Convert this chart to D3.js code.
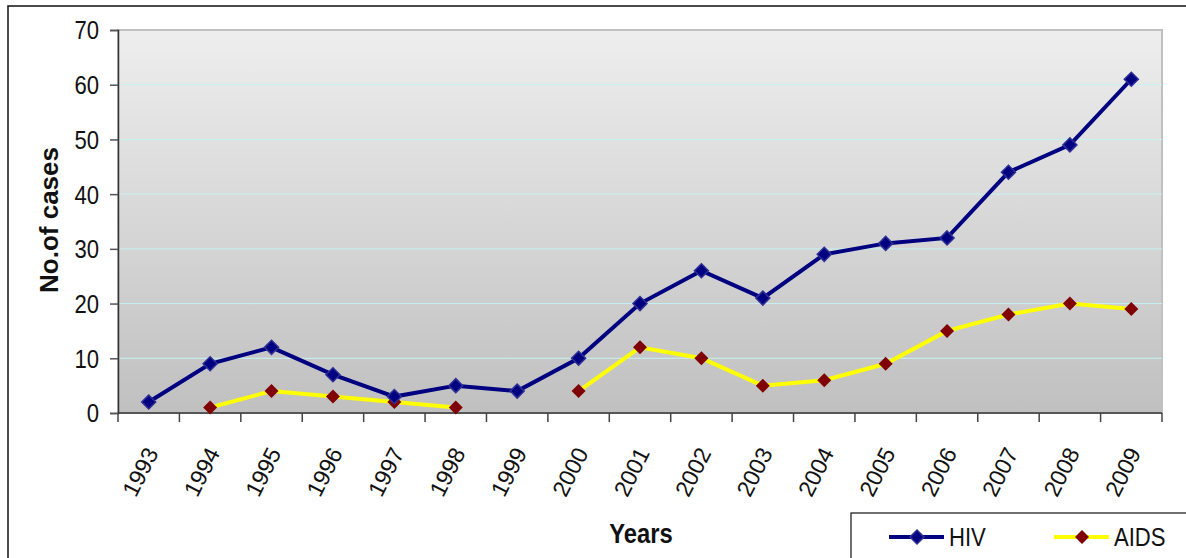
<!DOCTYPE html>
<html>
<head>
<meta charset="utf-8">
<script src="https://cdn.jsdelivr.net/npm/d3@7"></script>
<style>
  body { margin: 0; background: #fff; }
  text { font-family: "Liberation Sans", Arial, sans-serif; }
</style>
</head>
<body>
<svg id="chart" width="1186" height="558"></svg>
<script>
const years = ["1993", "1994", "1995", "1996", "1997", "1998", "1999", "2000", "2001",
  "2002", "2003", "2004", "2005", "2006", "2007", "2008", "2009"];
const hiv = [2, 9, 12, 7, 3, 5, 4, 10, 20, 26, 21, 29, 31, 32, 44, 49, 61];
const aids = [null, 1, 4, 3, 2, 1, null, 4, 12, 10, 5, 6, 9, 15, 18, 20, 19];
const yTicks = [0, 10, 20, 30, 40, 50, 60, 70];

const margin = { top: 30, right: 24, bottom: 145, left: 118 };
const width = 1186 - margin.left - margin.right;
const height = 558 - margin.top - margin.bottom;
// text in the picture is drawn a bit narrow
const squeeze = 0.85;

const svg = d3.select("#chart");

// outer frame
svg.append("path")
  .attr("d", "M8,558 L8,6 L1186,6")
  .attr("fill", "none")
  .attr("stroke", "#111")
  .attr("stroke-width", 1.5);

const grad = svg.append("defs").append("linearGradient")
  .attr("id", "bg")
  .attr("x1", 0).attr("y1", 0).attr("x2", 0).attr("y2", 1);
grad.append("stop").attr("offset", "0%").attr("stop-color", "#eeeeee");
grad.append("stop").attr("offset", "100%").attr("stop-color", "#c0c0c0");

const g = svg.append("g")
  .attr("transform", `translate(${margin.left},${margin.top})`);

const x = d3.scaleBand().domain(years).range([0, width]);
const y = d3.scaleLinear().domain([0, 70]).range([height, 0]);

g.append("rect")
  .attr("width", width)
  .attr("height", height)
  .attr("fill", "url(#bg)")
  .attr("stroke", "#c0c0c0")
  .attr("stroke-width", 2);

// gridlines
g.selectAll(".grid")
  .data(yTicks.filter(d => d > 0 && d < 70))
  .enter().append("line")
  .attr("x1", 0).attr("x2", width)
  .attr("y1", d => y(d)).attr("y2", d => y(d))
  .attr("stroke", "#c6f2f2")
  .attr("stroke-width", 1);

// y axis
const yAxis = g.append("g")
  .call(d3.axisLeft(y).tickValues(yTicks).tickSize(8).tickFormat(""));
yAxis.select(".domain").attr("stroke", "#333").attr("stroke-width", 1.5);
yAxis.selectAll(".tick line").attr("stroke", "#555").attr("stroke-width", 1.5);
g.selectAll(".ylab")
  .data(yTicks)
  .enter().append("text")
  .attr("transform", d => `translate(-19,${y(d)}) scale(${squeeze},1)`)
  .attr("text-anchor", "end")
  .attr("dy", "0.36em")
  .attr("font-size", 26)
  .attr("fill", "#111")
  .text(d => d);

// x axis: ticks at band boundaries
const xAxisG = g.append("g").attr("transform", `translate(0,${height})`);
xAxisG.append("line")
  .attr("x1", 0).attr("x2", width)
  .attr("stroke", "#333").attr("stroke-width", 1.5);
xAxisG.selectAll(".xt")
  .data(d3.range(years.length + 1))
  .enter().append("line")
  .attr("x1", i => i * x.step()).attr("x2", i => i * x.step())
  .attr("y1", 0).attr("y2", 9)
  .attr("stroke", "#444").attr("stroke-width", 1.5);
xAxisG.selectAll(".xl")
  .data(years)
  .enter().append("text")
  .attr("transform", d => `translate(${x(d) + x.bandwidth() / 2 + 3},36) rotate(-63)`)
  .attr("text-anchor", "end")
  .attr("dy", "0.36em")
  .attr("font-size", 23)
  .attr("fill", "#111")
  .text(d => d);

const cx = i => x(years[i]) + x.bandwidth() / 2;

// lines
const line = d3.line()
  .defined(d => d != null)
  .x((d, i) => cx(i))
  .y(d => y(d));

g.append("path")
  .datum(aids)
  .attr("fill", "none")
  .attr("stroke", "#ffff00")
  .attr("stroke-width", 4)
  .attr("d", line);

g.append("path")
  .datum(hiv)
  .attr("fill", "none")
  .attr("stroke", "#000080")
  .attr("stroke-width", 4)
  .attr("d", line);

const diamond = d3.symbol().type(d3.symbolDiamond2).size(125);

g.selectAll(".aidsPt")
  .data(aids.map((v, i) => ({ v, i })).filter(d => d.v != null))
  .enter().append("path")
  .attr("d", diamond)
  .attr("transform", d => `translate(${cx(d.i)},${y(d.v)})`)
  .attr("fill", "#800000");

g.selectAll(".hivPt")
  .data(hiv.map((v, i) => ({ v, i })))
  .enter().append("path")
  .attr("d", diamond)
  .attr("transform", d => `translate(${cx(d.i)},${y(d.v)})`)
  .attr("fill", "#000080")
  .attr("stroke", "#2e2e96")
  .attr("stroke-width", 1.5);

// axis titles
svg.append("text")
  .attr("transform", "translate(58,220) rotate(-90)")
  .attr("text-anchor", "middle")
  .attr("font-size", 26)
  .attr("font-weight", "bold")
  .attr("fill", "#111")
  .text("No.of cases");

svg.append("text")
  .attr("transform", `translate(641,543) scale(${squeeze},1)`)
  .attr("text-anchor", "middle")
  .attr("font-size", 28)
  .attr("font-weight", "bold")
  .attr("fill", "#111")
  .text("Years");

// legend
const legend = svg.append("g").attr("transform", "translate(851,513)");
legend.append("rect")
  .attr("width", 340).attr("height", 60)
  .attr("fill", "#fff")
  .attr("stroke", "#111").attr("stroke-width", 1.2);

const items = [
  { name: "HIV", line: "#000080", fill: "#000080", stroke: "#2e2e96", x: 38 },
  { name: "AIDS", line: "#ffff00", fill: "#800000", stroke: "none", x: 203 }
];
const li = legend.selectAll(".li").data(items).enter().append("g")
  .attr("transform", d => `translate(${d.x},24)`);
li.append("line")
  .attr("x1", 0).attr("x2", 55)
  .attr("stroke", d => d.line).attr("stroke-width", 4);
li.append("path")
  .attr("d", diamond)
  .attr("transform", "translate(28,0)")
  .attr("fill", d => d.fill)
  .attr("stroke", d => d.stroke)
  .attr("stroke-width", 1.5);
li.append("text")
  .attr("transform", `translate(60,0) scale(${squeeze},1)`)
  .attr("dy", "0.36em")
  .attr("font-size", 26)
  .attr("fill", "#111")
  .text(d => d.name);
</script>
</body>
</html>
